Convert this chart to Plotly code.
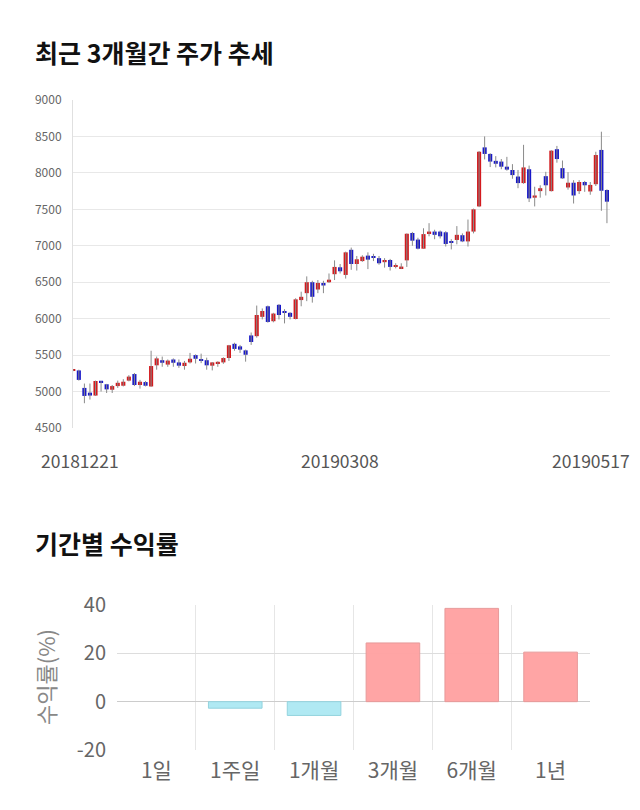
import plotly.graph_objects as go

# ---------------- data ----------------
dates = (
    ["20181221", "20181224", "20181226", "20181227", "20181228"]
    + ["201901" + d for d in ["02", "03", "04", "07", "08", "09", "10", "11", "14", "15", "16",
                              "17", "18", "21", "22", "23", "24", "25", "28", "29", "30", "31"]]
    + ["201902" + d for d in ["01", "07", "08", "11", "12", "13", "14", "15", "18", "19", "20",
                              "21", "22", "25", "26", "27", "28"]]
    + ["201903" + d for d in ["04", "05", "06", "07", "08", "11", "12", "13", "14", "15", "18",
                              "19", "20", "21", "22", "25", "26", "27", "28", "29"]]
    + ["201904" + d for d in ["01", "02", "03", "04", "05", "08", "09", "10", "11", "12", "15",
                              "16", "17", "18", "19", "22", "23", "24", "25", "26", "29", "30"]]
    + ["201905" + d for d in ["02", "03", "07", "08", "09", "10", "13", "14", "15", "16", "17"]]
)

opens = [5285, 5290, 5050, 4985, 4945, 5140, 5100, 5025, 5075, 5080,
         5150, 5240, 5090, 5130, 5070, 5360, 5430, 5370, 5440, 5400,
         5350, 5400, 5500, 5430, 5430, 5355, 5390, 5400, 5460, 5655,
         5620, 5565, 5770, 5760, 6025, 6170, 5965, 6190, 6090, 6080,
         5995, 6255, 6350, 6500, 6400, 6490, 6500, 6610, 6705, 6600,
         6945, 6750, 6790, 6865, 6845, 6830, 6775, 6805, 6710, 6695,
         6800, 7175, 7085, 6960, 7175, 7195, 7195, 7185, 7045, 7080,
         7145, 7060, 7195, 7540, 8350, 8260, 8165, 8155, 8085, 8040,
         7950, 7860, 8050, 7660, 7750, 7955, 7750, 8325, 8065, 7800,
         7865, 7750, 7875, 7745, 7845, 8315, 7765]
highs = [5305, 5300, 5110, 5110, 5150, 5145, 5105, 5090, 5150, 5170,
         5225, 5255, 5160, 5145, 5560, 5480, 5480, 5440, 5455, 5440,
         5420, 5530, 5510, 5520, 5465, 5405, 5415, 5470, 5640, 5670,
         5640, 5575, 5810, 6180, 6140, 6180, 6080, 6200, 6130, 6090,
         6280, 6370, 6580, 6520, 6530, 6520, 6620, 6800, 6750, 6920,
         6975, 6860, 6870, 6910, 6890, 6860, 6830, 6820, 6760, 6760,
         7170, 7190, 7110, 7240, 7310, 7220, 7210, 7200, 7090, 7270,
         7170, 7360, 7510, 8300, 8500, 8270, 8230, 8190, 8220, 8120,
         8040, 8385, 8100, 7810, 7830, 8015, 8310, 8370, 8170, 8010,
         7900, 7900, 7890, 7875, 8290, 8565, 7775]
lows = [5280, 5150, 4840, 4890, 4940, 5000, 4980, 4980, 5050, 5070,
        5140, 5075, 5040, 5070, 5065, 5300, 5340, 5340, 5340, 5325,
        5300, 5385, 5385, 5390, 5300, 5290, 5340, 5380, 5420, 5560,
        5530, 5410, 5640, 5740, 5990, 5945, 5950, 5990, 5935, 5990,
        5990, 6170, 6240, 6220, 6350, 6350, 6490, 6530, 6620, 6550,
        6670, 6660, 6780, 6680, 6790, 6740, 6700, 6660, 6690, 6680,
        6710, 7000, 6950, 6960, 7130, 7090, 7100, 6990, 6950, 7020,
        7050, 6990, 7170, 7530, 8185, 8080, 8075, 8050, 8030, 7920,
        7790, 7850, 7600, 7540, 7660, 7690, 7745, 8140, 7920, 7770,
        7580, 7710, 7740, 7700, 7820, 7480, 7310]
closes = [5300, 5160, 4940, 4945, 5145, 5130, 5030, 5075, 5120, 5135,
          5205, 5090, 5135, 5080, 5350, 5455, 5395, 5425, 5395, 5355,
          5395, 5450, 5450, 5425, 5360, 5400, 5395, 5460, 5635, 5585,
          5575, 5505, 5680, 6050, 6105, 5955, 6070, 6050, 6080, 6025,
          6265, 6300, 6500, 6300, 6490, 6455, 6535, 6710, 6650, 6910,
          6750, 6815, 6850, 6810, 6840, 6760, 6805, 6710, 6735, 6715,
          7165, 7070, 6960, 7160, 7195, 7150, 7130, 7025, 7040, 7150,
          7060, 7195, 7500, 8290, 8260, 8155, 8125, 8085, 8045, 7970,
          7860, 8075, 7650, 7690, 7790, 7830, 8305, 8190, 7925, 7865,
          7690, 7875, 7830, 7835, 8245, 7755, 7605]

date_ticks = ["20181221", "20190308", "20190517"]

price_ticks = [4500, 5000, 5500, 6000, 6500, 7000, 7500, 8000, 8500, 9000]

periods = ["1일", "1주일", "1개월", "3개월", "6개월", "1년"]
returns = [0.0, -2.7, -5.7, 24.3, 38.6, 20.5]
return_ticks = [-20, 0, 20, 40]

# ---------------- styles ----------------
FONT = "Noto Sans CJK KR"
UP = "#d31a1e"
DOWN = "#1818c8"
WICK = "#8a8a8a"

fig = go.Figure()

# wicks
wx, wy = [], []
for d, h, l in zip(dates, highs, lows):
    wx += [d, d, None]
    wy += [l, h, None]
fig.add_trace(go.Scatter(x=wx, y=wy, mode="lines", line=dict(color=WICK, width=1),
                         connectgaps=False, hoverinfo="skip", xaxis="x", yaxis="y",
                         showlegend=False))

# bodies
base = [min(o, c) for o, c in zip(opens, closes)]
size = [max(abs(c - o), 18) for o, c in zip(opens, closes)]
cols = [UP if c >= o else DOWN for o, c in zip(opens, closes)]
fig.add_trace(go.Bar(x=dates, y=size, base=base, width=0.74,
                     marker=dict(color=cols, line=dict(width=0)),
                     xaxis="x", yaxis="y", showlegend=False))

# returns bars
bcols = ["rgba(255,160,160,0.95)" if v >= 0 else "rgba(172,232,242,0.95)" for v in returns]
blines = ["#e79a9a" if v >= 0 else "#93d3de" for v in returns]
bwidths = [1 if v != 0 else 0 for v in returns]
fig.add_trace(go.Bar(x=periods, y=returns, width=0.68,
                     marker=dict(color=bcols, line=dict(color=blines, width=bwidths)),
                     xaxis="x2", yaxis="y2", showlegend=False))

W, H = 640, 810
def px_x(p): return p / W
def px_y(p): return 1 - p / H

annotations = [
    dict(text="<b>최근 3개월간 주가 추세</b>", x=px_x(33), y=px_y(52), xref="paper", yref="paper",
         xanchor="left", yanchor="middle", showarrow=False,
         font=dict(family=FONT, size=25, color="#111")),
    dict(text="<b>기간별 수익률</b>", x=px_x(33), y=px_y(543), xref="paper", yref="paper",
         xanchor="left", yanchor="middle", showarrow=False,
         font=dict(family=FONT, size=25, color="#111")),
    dict(text="수익률(%)", x=px_x(45), y=px_y(677), xref="paper", yref="paper",
         xanchor="center", yanchor="middle", showarrow=False, textangle=-90,
         font=dict(family=FONT, size=22, color="#888")),
]
shifts = [7, 0, -16]
for t, s in zip(date_ticks, shifts):
    annotations.append(dict(text=t, x=dates.index(t), xref="x", y=px_y(461), yref="paper",
                            xanchor="center", yanchor="middle", showarrow=False, xshift=s,
                            font=dict(family=FONT, size=17.5, color="#555")))

fig.update_layout(
    width=W, height=H,
    margin=dict(l=0, r=0, t=0, b=0, pad=0, autoexpand=False),
    paper_bgcolor="white", plot_bgcolor="white",
    showlegend=False,
    annotations=annotations,
    xaxis=dict(domain=[px_x(73), px_x(610)], type="category", categoryorder="array",
               categoryarray=dates, range=[-0.05, 96.55], showticklabels=False,
               showgrid=False, zeroline=False, showline=False, ticks="", anchor="y",
               automargin=False),
    yaxis=dict(domain=[px_y(428), px_y(100)], range=[4500, 9000],
               tickvals=price_ticks, ticktext=[str(v) for v in price_ticks],
               showgrid=True, gridcolor="#e8e8e8", gridwidth=1, zeroline=False,
               showline=True, linecolor="#e0e0e0", linewidth=1, ticks="",
               tickfont=dict(family=FONT, size=12, color="#666"), anchor="x",
               ticklabelstandoff=8, automargin=False),
    xaxis2=dict(domain=[px_x(117), px_x(590)], type="category", anchor="y2",
                tickson="boundaries", showgrid=True, gridcolor="#e6e6e6", ticks="",
                zeroline=False, showline=False, automargin=False, ticklabelstandoff=6,
                tickfont=dict(family=FONT, size=21, color="#666")),
    yaxis2=dict(domain=[px_y(750), px_y(605)], range=[-20, 40], tickvals=return_ticks,
                ticktext=[str(v) for v in return_ticks],
                showgrid=True, gridcolor="#dddddd", zeroline=True, zerolinecolor="#cccccc",
                zerolinewidth=1, showline=False, ticks="", anchor="x2", automargin=False,
                tickfont=dict(family=FONT, size=20, color="#666"), ticklabelstandoff=10),
)

fig.write_html("out.html")
